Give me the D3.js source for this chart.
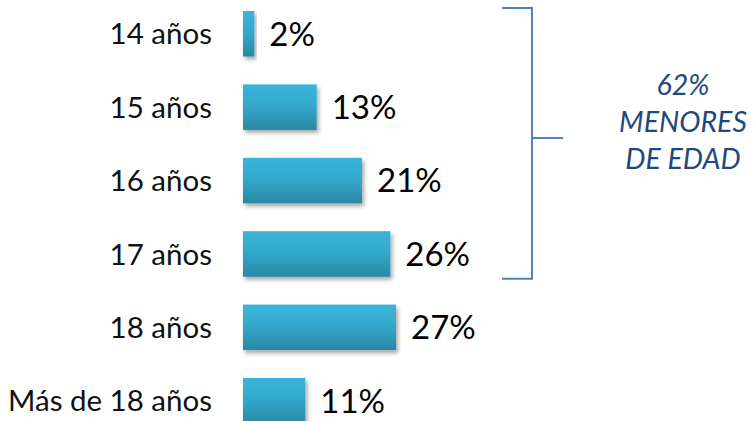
<!DOCTYPE html>
<html>
<head>
<meta charset="utf-8">
<script src="https://cdn.jsdelivr.net/npm/d3@7"></script>
<style>
  body { margin: 0; background: #fff; }
  svg { display: block; }
</style>
</head>
<body>
<svg id="chart"></svg>
<script>
// data
var categories = ['14 años', '15 años', '16 años', '17 años', '18 años', 'Más de 18 años']
var values = [2, 13, 21, 26, 27, 11]
var groupLabel = ['62%', 'MENORES', 'DE EDAD']
var groupCats = ['14 años', '17 años']

var width = 753
var height = 421

var data = categories.map((c, i) => ({ cat: c, value: values[i] }))

var svg = d3.select('#chart').attr('width', width).attr('height', height)

var defs = svg.append('defs')
var grad = defs.append('linearGradient')
  .attr('id', 'barGrad')
  .attr('x1', 0).attr('y1', 0).attr('x2', 0).attr('y2', 1)
grad.append('stop').attr('offset', '0%').attr('stop-color', '#39b5da')
grad.append('stop').attr('offset', '45%').attr('stop-color', '#33a9cc')
grad.append('stop').attr('offset', '100%').attr('stop-color', '#2a88a4')

var shadow = defs.append('filter')
  .attr('id', 'shadow')
  .attr('x', '-20%').attr('y', '-20%').attr('width', '140%').attr('height', '160%')
shadow.append('feDropShadow')
  .attr('dx', 2).attr('dy', 3).attr('stdDeviation', 2)
  .attr('flood-color', '#000').attr('flood-opacity', 0.35)

var x = d3.scaleLinear()
  .domain([0, 27])
  .range([243, 396])

var y = d3.scaleBand()
  .domain(categories)
  .range([11, 423.5])
  .paddingInner(0.38)
  .paddingOuter(0)

// bars
svg.append('g')
  .selectAll('rect')
  .data(data)
  .enter()
  .append('rect')
  .attr('x', x(0))
  .attr('y', d => y(d.cat))
  .attr('width', d => x(d.value) - x(0))
  .attr('height', y.bandwidth())
  .attr('fill', 'url(#barGrad)')
  .attr('filter', 'url(#shadow)')

// value labels
svg.append('g')
  .selectAll('text')
  .data(data)
  .enter()
  .append('text')
  .attr('x', d => x(d.value) + 15)
  .attr('y', d => y(d.cat) + y.bandwidth() / 2)
  .attr('dy', '0.36em')
  .attr('font-family', 'Lato, sans-serif')
  .attr('font-size', 33)
  .attr('fill', '#000')
  .text(d => d.value + '%')

// category labels
svg.append('g')
  .selectAll('text')
  .data(data)
  .enter()
  .append('text')
  .attr('x', 212)
  .attr('y', d => y(d.cat) + y.bandwidth() / 2)
  .attr('dy', '0.36em')
  .attr('text-anchor', 'end')
  .attr('font-family', 'Lato, sans-serif')
  .attr('font-size', 29.5)
  .attr('fill', '#111')
  .text(d => d.cat)

// bracket for the under-age group
var bTop = y(groupCats[0]) - 3
var bBot = y(groupCats[1]) + y.bandwidth() + 2
var bX = 532
var bMid = bTop + (bBot - bTop) * 0.48

svg.append('path')
  .attr('d', `M502,${bTop}H${bX}V${bBot}H502M${bX},${bMid}H563`)
  .attr('fill', 'none')
  .attr('stroke', '#4f81bd')
  .attr('stroke-width', 2)

svg.append('g')
  .selectAll('text')
  .data(groupLabel)
  .enter()
  .append('text')
  .attr('x', 683)
  .attr('y', (d, i) => 95 + i * 37)
  .attr('text-anchor', 'middle')
  .attr('font-family', 'Lato, sans-serif')
  .attr('font-style', 'italic')
  .attr('font-size', 28.5)
  .attr('fill', '#1f497d')
  .text(d => d)
</script>
</body>
</html>
